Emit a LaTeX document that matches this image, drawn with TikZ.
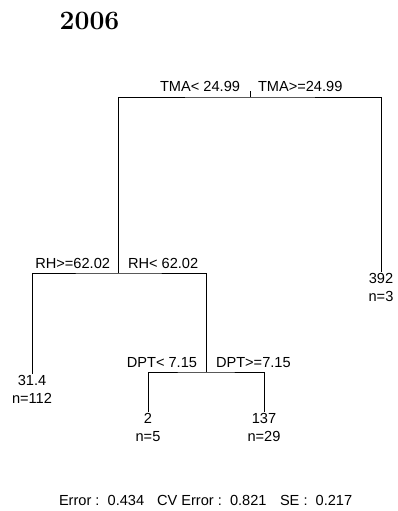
\documentclass[tikz,border=0pt]{standalone}
\usepackage{fontspec}
\newfontfamily\rfont{Liberation Sans}
\begin{document}
\begin{tikzpicture}[x=1pt,y=-1pt,line width=.8pt,every node/.style={font=\rfont\fontsize{14.6}{18.5}\selectfont,inner sep=0pt,outer sep=0pt},leaf/.style={anchor=north,align=center,inner sep=1pt}]
  \useasboundingbox (0,0) rectangle (398,511);
  \node[anchor=base,font=\bfseries\fontsize{26.5}{30}\selectfont] (title) at (89.5,30) {2006};
  \coordinate (top) at (250,91);
  \coordinate (tma) at (250,97);
  \coordinate (rh) at (118,273);
  \coordinate (dpt) at (206,372);
  \node[leaf] (l1) at (32,374) {31.4\\n=112};
  \node[leaf] (l392) at (381,272) {392\\n=3};
  \node[leaf] (l2) at (148,412) {2\\n=5};
  \node[leaf] (l137) at (264,412) {137\\n=29};
  \node[anchor=base east] (tmaL) at (240,92) {TMA< 24.99};
  \node[anchor=base west] (tmaR) at (258,92) {TMA>=24.99};
  \node[anchor=base east] (rhL) at (110,268) {RH>=62.02};
  \node[anchor=base west] (rhR) at (128,268) {RH< 62.02};
  \node[anchor=base east] (dptL) at (197,367) {DPT< 7.15};
  \node[anchor=base west] (dptR) at (216,367) {DPT>=7.15};
  \draw (top) -- (tma);
  \draw (rh) |- (tma) -| (l392.north);
  \draw (l1.north) |- (rh) -| (dpt);
  \draw (l2.north) |- (dpt) -| (l137.north);
  % fit summary
  \node[anchor=base west] (err) at (59,505) {Error :\ \ 0.434};
  \node[anchor=base west] (cverr) at (157,505) {CV Error :\ \ 0.821};
  \node[anchor=base west] (se) at (280,505) {SE :\ \ 0.217};
\end{tikzpicture}
\end{document}
